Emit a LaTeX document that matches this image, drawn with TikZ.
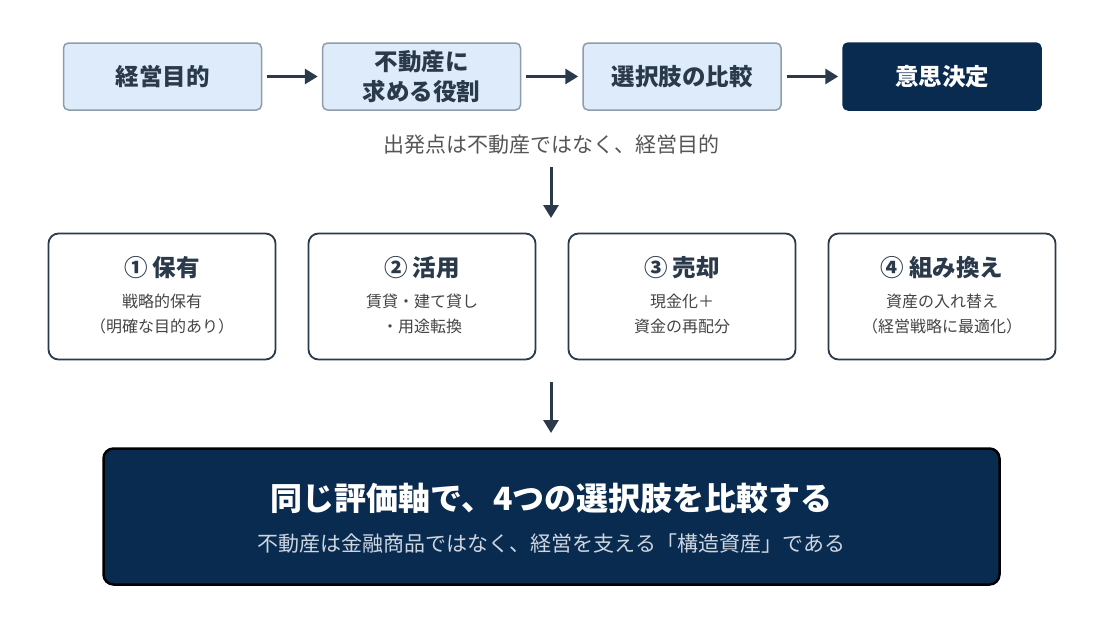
\documentclass[tikz,border=0pt]{standalone}
\usepackage{fontspec}
\setmainfont{Noto Sans CJK JP}
\newfontfamily\jp{Noto Sans CJK JP}
\usetikzlibrary{arrows.meta}
\definecolor{navy}{HTML}{0A2B50}
\definecolor{ink}{HTML}{2B3A4B}
\definecolor{lightblue}{HTML}{DDEBFB}
\definecolor{graybd}{HTML}{8F9CAA}
\definecolor{capgray}{HTML}{555555}
\definecolor{subgray}{HTML}{444444}
\definecolor{subwhite}{HTML}{CDD6E0}
\tikzset{
  flowbox/.style={draw=graybd, line width=1.5pt, fill=lightblue, rounded corners=5pt,
    minimum width=198pt, minimum height=67pt, align=center, text=ink,
    font=\jp\bfseries\fontsize{23.5}{30}\selectfont},
  finalbox/.style={flowbox, draw=navy, fill=navy, text=white},
  optbox/.style={draw=ink, line width=1.8pt, fill=white, rounded corners=10pt,
    minimum width=227pt, minimum height=126pt},
  opttitle/.style={text=ink, font=\jp\bfseries\fontsize{23.5}{28}\selectfont},
  optsub/.style={text=subgray, align=center, font=\jp\fontsize{16}{24.5}\selectfont},
  conn/.style={draw=ink, line width=3pt, -{Triangle[length=13pt,width=15pt]}},
}
\begin{document}
\begin{tikzpicture}[x=1pt,y=-1pt]
\useasboundingbox (0,0) rectangle (1093,637);
% top flow
\node[flowbox] (f1) at (162.5,76.5) {経営目的};
\node[flowbox] (f2) at (421.5,76.5) {不動産に\\求める役割};
\node[flowbox] (f3) at (682,76.5) {選択肢の比較};
\node[finalbox] (f4) at (942,76.5) {意思決定};
\draw[conn] ([xshift=5pt]f1.east) -- ([xshift=-4pt]f2.west);
\draw[conn] ([xshift=5pt]f2.east) -- ([xshift=-4pt]f3.west);
\draw[conn] ([xshift=5pt]f3.east) -- ([xshift=-4pt]f4.west);
% caption
\node[text=capgray, font=\jp\fontsize{21}{25}\selectfont] (cap) at (551,145) {出発点は不動産ではなく、経営目的};
\coordinate (d1s) at (551,167);
\coordinate (d1e) at (551,218);
\draw[conn] (d1s) -- (d1e);
% options
\node[optbox] (o1) at (162,296.5) {};
\node[optbox] (o2) at (422,296.5) {};
\node[optbox] (o3) at (682,296.5) {};
\node[optbox] (o4) at (942,296.5) {};
\node[opttitle] (t1) at (162,268) {① 保有};
\node[opttitle] (t2) at (422,268) {② 活用};
\node[opttitle] (t3) at (682,268) {③ 売却};
\node[opttitle] (t4) at (942,268) {④ 組み換え};
\node[optsub] (s1) at (162,314) {戦略的保有\\（明確な目的あり）};
\node[optsub] (s2) at (422,314) {賃貸・建て貸し\\・用途転換};
\node[optsub] (s3) at (682,314) {現金化＋\\資金の再配分};
\node[optsub] (s4) at (942,314) {資産の入れ替え\\（経営戦略に最適化）};
\coordinate (d2s) at (551,382);
\coordinate (d2e) at (551,433);
\draw[conn] (d2s) -- (d2e);
% bottom
\node[draw=black, line width=2.5pt, fill=navy, rounded corners=10pt,
  minimum width=896pt, minimum height=136pt] (fin) at (551.5,516.5) {};
\node[text=white, font=\jp\bfseries\fontsize{32}{38}\selectfont] (ft) at (551.5,498) {同じ評価軸で、4つの選択肢を比較する};
\node[text=subwhite, font=\jp\fontsize{21}{25}\selectfont] (fs) at (551.5,544) {不動産は金融商品ではなく、経営を支える「構造資産」である};
\end{tikzpicture}
\end{document}
